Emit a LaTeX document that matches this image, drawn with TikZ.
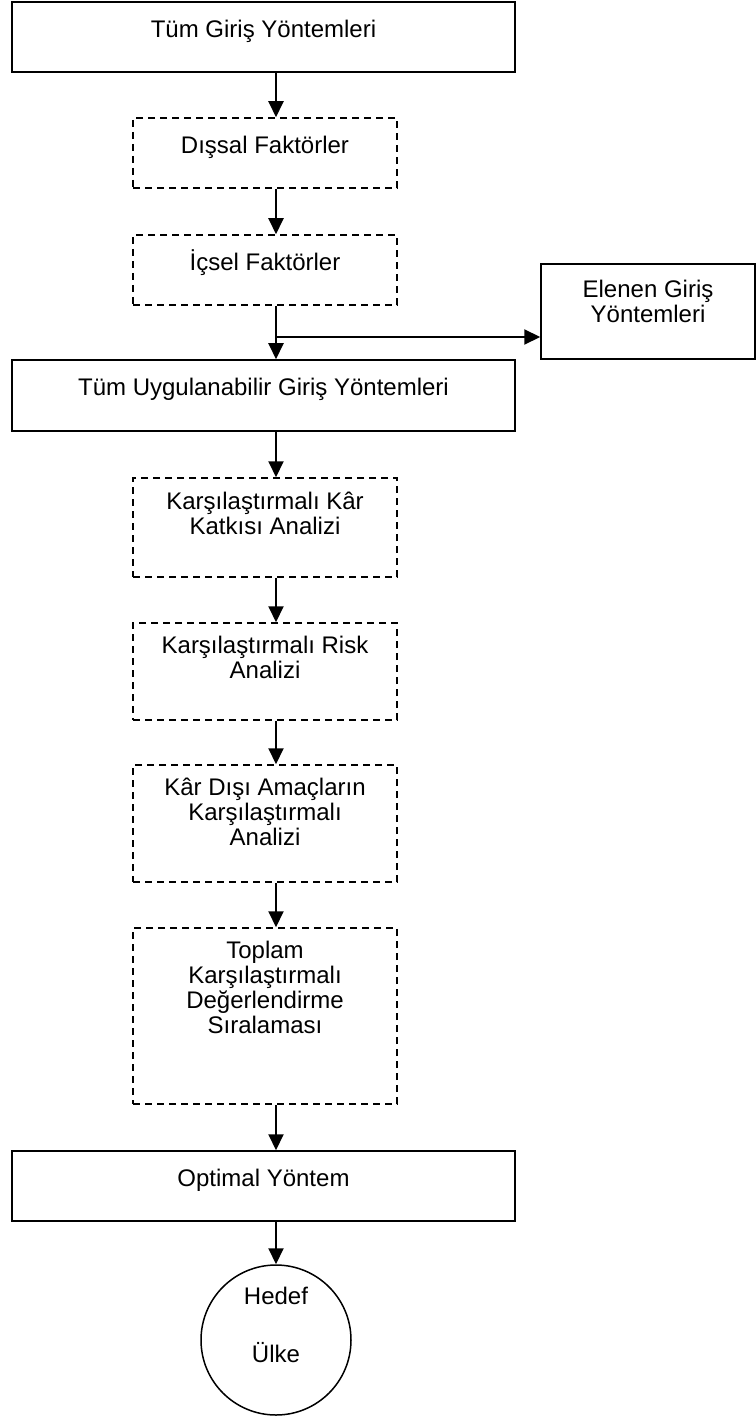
\documentclass[tikz,border=0pt]{standalone}
\usepackage{fontspec}
\setmainfont{Liberation Sans}
\usetikzlibrary{arrows.meta}

\begin{document}
\begin{tikzpicture}[x=0.5pt,y=-0.5pt,>={Triangle[length=8pt,width=7.5pt]},
        font=\fontsize{12}{12.5}\selectfont,
        solidbox/.style={draw,line width=0.75pt,rectangle,inner sep=0pt},
        dashbox/.style={solidbox,dash pattern=on 3.5pt off 2.5pt},
        boxtext/.style={anchor=north,yshift=-3.8pt,align=center,
            execute at begin node={\rule{0pt}{11pt}}},
        flow/.style={->,line width=1pt}]
            \useasboundingbox (0,0) rectangle (755,1417);

            % the flow runs down this line
            \coordinate (axis) at (276,0);

            % first stage
            \node[solidbox,minimum width=251.5pt,minimum height=35pt,
                label={[boxtext]north:Tüm Giriş Yöntemleri}] (tum) at (263.5,37) {};
            \node[dashbox,minimum width=132pt,minimum height=35pt,
                label={[boxtext]north:Dışsal Faktörler}] (dissal) at (265,153) {};
            \node[dashbox,minimum width=132pt,minimum height=35pt,
                label={[boxtext]north:İçsel Faktörler}] (icsel) at (265,270) {};

            % methods left out
            \node[solidbox,minimum width=107pt,minimum height=47.5pt,
                label={[boxtext,yshift=-1pt]north:Elenen Giriş\\Yöntemleri}] (elenen) at (648,311.5) {};

            % second stage
            \node[solidbox,minimum width=251.5pt,minimum height=35.5pt,
                label={[boxtext]north:Tüm Uygulanabilir Giriş Yöntemleri}] (uygun) at (263.5,395.5) {};
            \node[dashbox,minimum width=132pt,minimum height=49.5pt,
                label={[boxtext]north:Karşılaştırmalı Kâr\\Katkısı Analizi}] (kar) at (265,527.5) {};
            \node[dashbox,minimum width=132pt,minimum height=48.5pt,
                label={[boxtext,yshift=0.5pt]north:Karşılaştırmalı Risk\\Analizi}] (risk) at (265,671.5) {};
            \node[dashbox,minimum width=132pt,minimum height=58.5pt,
                label={[boxtext,yshift=0.5pt]north:Kâr Dışı Amaçların\\Karşılaştırmalı\\Analizi}] (amac) at (265,823.5) {};
            \node[dashbox,minimum width=132pt,minimum height=88pt,
                label={[boxtext,yshift=0.5pt]north:Toplam\\Karşılaştırmalı\\Değerlendirme\\Sıralaması}] (toplam) at (265,1016) {};

            % result
            \node[solidbox,minimum width=251.5pt,minimum height=35pt,
                label={[boxtext]north:Optimal Yöntem}] (optimal) at (263.5,1186) {};
            \node[draw,circle,line width=0.75pt,minimum size=75pt,inner sep=0pt,
                label={[boxtext,yshift=-4pt]north:Hedef\\[16.5pt]Ülke}] (hedef) at (276,1340) {};

            % arrows down the line
            \draw[flow] (tum.south -| axis) -- (dissal.north -| axis);
            \draw[flow] (dissal.south -| axis) -- (icsel.north -| axis);
            \draw[flow] (icsel.south -| axis) -- (uygun.north -| axis);
            \draw[flow] (uygun.south -| axis) -- (kar.north -| axis);
            \draw[flow] (kar.south -| axis) -- (risk.north -| axis);
            \draw[flow] (risk.south -| axis) -- (amac.north -| axis);
            \draw[flow] (amac.south -| axis) -- (toplam.north -| axis);
            \draw[flow] (toplam.south -| axis) -- (optimal.north -| axis);
            \draw[flow] (optimal.south -| axis) -- (hedef.north);

            % branch to the right
            \coordinate (split) at (276,337);
            \draw[flow] (split) -- (split -| elenen.west);
\end{tikzpicture}
\end{document}
